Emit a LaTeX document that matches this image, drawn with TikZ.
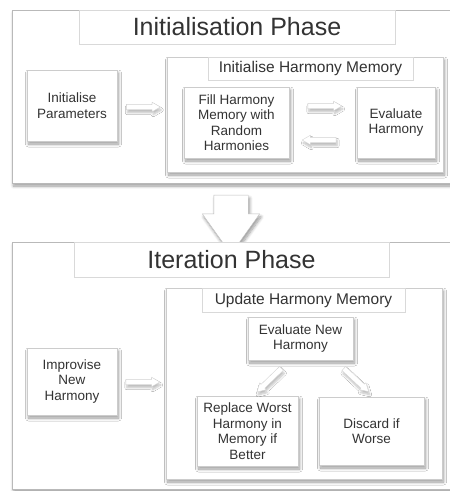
\documentclass[tikz,border=0pt]{standalone}
\usepackage{fontspec}
\setmainfont{Liberation Sans}
\usetikzlibrary{shapes.arrows,shadows.blur}
\begin{document}
\begin{tikzpicture}[x=1pt,y=-1pt,
  shade/.style={blur shadow={shadow xshift=1.5pt, shadow yshift=-3pt, shadow blur radius=3pt, shadow blur steps=8, shadow opacity=40}},
  lightshade/.style={blur shadow={shadow xshift=1pt, shadow yshift=-3pt, shadow blur radius=2pt, shadow blur steps=6, shadow opacity=25}},
  phase/.style={draw=gray!55, fill=white, shade, inner sep=0pt},
  phasetitle/.style={draw=gray!30, fill=white, text=black!80, font=\fontsize{25}{30}\selectfont, inner sep=0pt},
  subtitle/.style={draw=gray!30, fill=white, text=black!80, font=\fontsize{15.5}{18}\selectfont, inner sep=0pt},
  box/.style={draw=gray!40, fill=white, shade, align=center, text=black!80, font=\fontsize{13.5}{15.5}\selectfont, inner sep=0pt},
  smallarr/.style={single arrow, draw=gray!35, fill=white, lightshade, text height=0pt, text depth=0pt, inner xsep=0pt, inner ysep=2.5pt, minimum height=34pt, single arrow head extend=2pt, single arrow tip angle=60},
  bigarr/.style={single arrow, draw=gray!50, fill=white, shade, text height=0pt, text depth=0pt, inner xsep=0pt, inner ysep=17pt, minimum height=59pt, single arrow head extend=11.5pt, single arrow tip angle=71, rotate=-90}]
\useasboundingbox (0,0) rectangle (450,491);
\node[phase, minimum width=448pt, minimum height=173pt] (init) at (236,96.5){};
\node[phase, minimum width=448pt, minimum height=247pt] (iter) at (236,365.5){};
\node[bigarr] (down) at (231,212.5){};
\node[phasetitle, minimum width=316pt, minimum height=34pt] (inittitle) at (237,27){Initialisation Phase};
\node[box, minimum width=90pt, minimum height=71pt] (params) at (72,105.5){Initialise\\Parameters};
\node[box, minimum width=276pt, minimum height=115pt] (ihm) at (305,114.5){};
\node[subtitle, minimum width=205pt, minimum height=23pt] (ihmtitle) at (310.5,68.5){Initialise Harmony Memory};
\node[box, minimum width=105pt, minimum height=71pt] (fill) at (236.5,122.5){Fill Harmony\\Memory with\\Random\\Harmonies};
\node[box, minimum width=78pt, minimum height=71pt] (eval) at (396,122.5){Evaluate\\Harmony};
\node[smallarr] (a1) at (141,107){};
\node[smallarr] (a2) at (322.5,106){};
\node[smallarr, rotate=180] (a3) at (321.5,140){};
\node[phasetitle, minimum width=315pt, minimum height=35pt] (itertitle) at (231.5,259.5){Iteration Phase};
\node[box, minimum width=90pt, minimum height=67pt] (improv) at (72,381.5){Improvise\\New\\Harmony};
\node[box, minimum width=276pt, minimum height=191pt] (uhm) at (304,383.5){};
\node[subtitle, minimum width=203pt, minimum height=24pt] (uhmtitle) at (303.5,300){Update Harmony Memory};
\node[box, minimum width=105pt, minimum height=43pt] (evalnew) at (300.5,338.5){Evaluate New\\Harmony};
\node[box, minimum width=101pt, minimum height=70pt] (replace) at (247.5,431){Replace Worst\\Harmony in\\Memory if\\Better};
\node[box, minimum width=105pt, minimum height=68pt] (discard) at (371.5,431){Discard if\\Worse};
\node[smallarr] (a4) at (140.5,382){};
\node[smallarr, rotate=224] (a5) at (271,378.5){};
\node[smallarr, rotate=317] (a6) at (354.5,378.5){};
\end{tikzpicture}
\end{document}
